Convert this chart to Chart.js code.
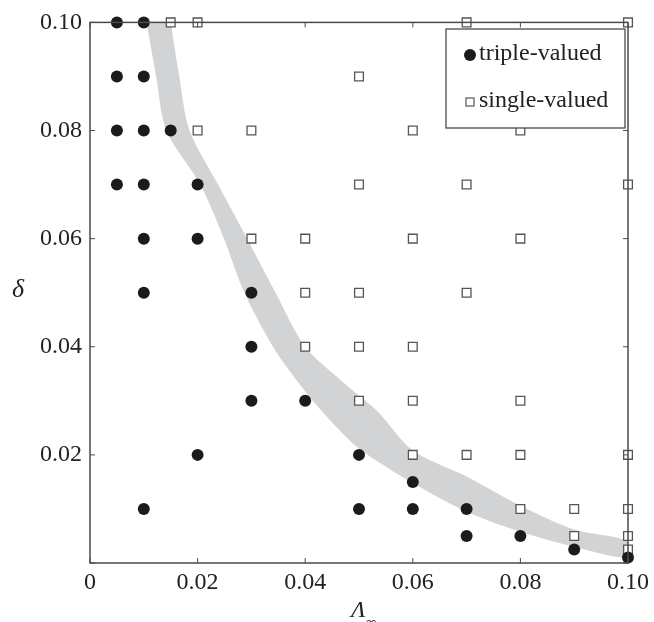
<!DOCTYPE html>
<html>
<head>
<meta charset="utf-8">
<script src="https://cdn.jsdelivr.net/npm/chart.js@4.4.1/dist/chart.umd.min.js"></script>
<style>
  body { margin: 0; background: #fff; }
  canvas { display: block; }
</style>
</head>
<body>
<canvas id="regimeChart" width="654" height="622"></canvas>
<script>
// triple-valued cases (filled circles)
const tripleX = [0.005, 0.01, 0.005, 0.01, 0.005, 0.01, 0.015, 0.005, 0.01, 0.02, 0.01, 0.02, 0.01, 0.03,
    0.03, 0.03, 0.04, 0.02, 0.05, 0.06, 0.01, 0.05, 0.06, 0.07, 0.07, 0.08, 0.09, 0.1];
const tripleY = [0.1, 0.1, 0.09, 0.09, 0.08, 0.08, 0.08, 0.07, 0.07, 0.07, 0.06, 0.06, 0.05, 0.05,
    0.04, 0.03, 0.03, 0.02, 0.02, 0.015, 0.01, 0.01, 0.01, 0.01, 0.005, 0.005, 0.0025, 0.001];

// single-valued cases (open squares)
const singleX = [0.015, 0.02, 0.07, 0.1, 0.05, 0.02, 0.03, 0.06, 0.08, 0.05, 0.07, 0.1, 0.03, 0.04, 0.06, 0.08,
    0.04, 0.05, 0.07, 0.04, 0.05, 0.06, 0.05, 0.06, 0.08, 0.06, 0.07, 0.08, 0.1, 0.08, 0.09, 0.1, 0.09, 0.1, 0.1];
const singleY = [0.1, 0.1, 0.1, 0.1, 0.09, 0.08, 0.08, 0.08, 0.08, 0.07, 0.07, 0.07, 0.06, 0.06, 0.06, 0.06,
    0.05, 0.05, 0.05, 0.04, 0.04, 0.04, 0.03, 0.03, 0.03, 0.02, 0.02, 0.02, 0.02, 0.01, 0.01, 0.01, 0.005, 0.005, 0.0025];

// grey transition band: right edge going down, then left edge coming back up
const bandUpperX = [0.0150, 0.0166, 0.0185, 0.0238, 0.0292, 0.0345, 0.0400, 0.0470, 0.0535, 0.0600, 0.0700, 0.0800, 0.0900, 0.1000];
const bandUpperY = [0.100, 0.090, 0.080, 0.070, 0.060, 0.050, 0.040, 0.0335, 0.0280, 0.0208, 0.0160, 0.0106, 0.0062, 0.0040];
const bandLowerX = [0.1000, 0.0900, 0.0800, 0.0700, 0.0600, 0.0500, 0.0450, 0.0410, 0.0375, 0.0340, 0.0287, 0.0249, 0.0205, 0.0142, 0.0123, 0.0105];
const bandLowerY = [0.0010, 0.0030, 0.0058, 0.0095, 0.0148, 0.0212, 0.0260, 0.0305, 0.0350, 0.0400, 0.0500, 0.0600, 0.0700, 0.0800, 0.0900, 0.1000];

const tickValues = [0, 0.02, 0.04, 0.06, 0.08, 0.1];

const pts = (xs, ys) => xs.map((x, i) => ({ x: x, y: ys[i] }));
const bandPts = pts(bandUpperX, bandUpperY).concat(pts(bandLowerX, bandLowerY));

const serif = "'Liberation Serif', 'DejaVu Serif', serif";
const axisColor = "#4a4a4a";

// box, inward ticks, axis titles and legend
const decorations = {
    id: "decorations",
    afterDatasetsDraw(chart) {
        const { ctx, chartArea: a, scales: { x, y } } = chart;
        ctx.save();
        ctx.strokeStyle = axisColor;
        ctx.lineWidth = 1.5;
        ctx.strokeRect(a.left, a.top, a.right - a.left, a.bottom - a.top);

        ctx.lineWidth = 1;
        ctx.beginPath();
        tickValues.forEach(v => {
            const px = x.getPixelForValue(v);
            ctx.moveTo(px, a.bottom); ctx.lineTo(px, a.bottom - 5);
            ctx.moveTo(px, a.top); ctx.lineTo(px, a.top + 5);
            const py = y.getPixelForValue(v);
            ctx.moveTo(a.left, py); ctx.lineTo(a.left + 5, py);
            ctx.moveTo(a.right, py); ctx.lineTo(a.right - 5, py);
        });
        ctx.stroke();

        // axis titles
        ctx.fillStyle = "#222";
        ctx.font = "italic 26px " + serif;
        ctx.textAlign = "center";
        ctx.textBaseline = "middle";
        ctx.fillText("δ", 18, 290);
        ctx.textAlign = "left";
        ctx.textBaseline = "alphabetic";
        ctx.font = "italic 24px " + serif;
        ctx.fillText("Λ", 351, 617);
        ctx.font = "15px " + serif;
        ctx.fillText("∞", 366, 627);

        // legend box
        const lx = 446, ly = 29, lw = 179, lh = 99;
        ctx.fillStyle = "#fff";
        ctx.fillRect(lx, ly, lw, lh);
        ctx.strokeStyle = axisColor;
        ctx.lineWidth = 1.3;
        ctx.strokeRect(lx, ly, lw, lh);

        ctx.fillStyle = "#1b1b1b";
        ctx.beginPath();
        ctx.arc(470, 55, 6, 0, Math.PI * 2);
        ctx.fill();
        ctx.strokeStyle = "#555";
        ctx.lineWidth = 1.2;
        ctx.strokeRect(466, 98, 8, 8);

        ctx.fillStyle = "#222";
        ctx.font = "24px " + serif;
        ctx.textBaseline = "middle";
        ctx.fillText("triple-valued", 479, 54);
        ctx.fillText("single-valued", 479, 101);
        ctx.restore();
    }
};

const ctx = document.getElementById("regimeChart").getContext("2d");
new Chart(ctx, {
    type: "scatter",
    data: {
        datasets: [
            {
                label: "triple-valued",
                data: pts(tripleX, tripleY),
                pointStyle: "circle",
                pointRadius: 6,
                pointHoverRadius: 6,
                backgroundColor: "#1b1b1b",
                borderColor: "#1b1b1b",
                borderWidth: 0,
                clip: false,
                order: 1
            },
            {
                label: "single-valued",
                data: pts(singleX, singleY),
                pointStyle: "rect",
                pointRadius: 6.2,
                pointHoverRadius: 6.2,
                backgroundColor: "#fff",
                borderColor: "#555",
                borderWidth: 1.3,
                clip: false,
                order: 2
            },
            {
                label: "band",
                data: bandPts,
                showLine: true,
                fill: "shape",
                backgroundColor: "#d2d3d5",
                borderWidth: 0,
                pointRadius: 0,
                pointHoverRadius: 0,
                tension: 0.3,
                order: 3
            }
        ]
    },
    options: {
        responsive: false,
        animation: false,
        layout: { padding: { left: 0, right: 21, top: 18, bottom: 0 } },
        plugins: {
            legend: { display: false },
            tooltip: { enabled: false }
        },
        scales: {
            x: {
                type: "linear",
                min: 0,
                max: 0.1,
                grid: { display: false, drawTicks: false },
                border: { display: false },
                afterFit: s => { s.height = 59; },
                afterBuildTicks: s => { s.ticks = tickValues.map(v => ({ value: v })); },
                ticks: {
                    padding: 5,
                    color: "#222",
                    font: { family: serif, size: 24 },
                    maxRotation: 0,
                    callback: v => (v === 0 ? "0" : v.toFixed(2))
                }
            },
            y: {
                type: "linear",
                min: 0,
                max: 0.1,
                grid: { display: false, drawTicks: false },
                border: { display: false },
                afterFit: s => { s.width = 90; },
                afterBuildTicks: s => { s.ticks = tickValues.map(v => ({ value: v })); },
                ticks: {
                    padding: 8,
                    color: "#222",
                    font: { family: serif, size: 24 },
                    callback: v => (v === 0 ? "" : v.toFixed(2))
                }
            }
        }
    },
    plugins: [decorations]
});
</script>
</body>
</html>
